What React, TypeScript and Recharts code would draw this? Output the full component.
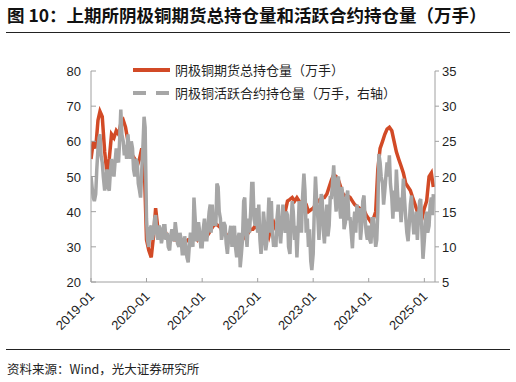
import React from 'react';
import { LineChart, Line, XAxis, YAxis, Legend } from 'recharts';

// 上期所阴极铜期货总持仓量（万手，左轴），每月 1 日、16 日
const totalOI = [
  // 2019
  55, 60, 58, 66, 68.5, 67, 57, 51, 55, 62, 61, 63, 62, 65, 66, 64, 60, 58, 56, 55, 53, 55, 58, 55,
  // 2020
  32, 29, 27, 33, 41, 35, 33, 34, 34.5, 33, 32, 33, 32, 32, 31, 31, 32, 31.5, 32, 32, 33, 33, 32, 33,
  // 2021
  33, 34, 33, 34, 35, 36, 36.5, 36, 35.5, 34, 34, 33, 33.5, 33, 32, 32.5, 31, 31.5, 32.5, 33, 34, 35, 35, 36,
  // 2022
  35, 34, 33, 34, 35, 33, 36, 37, 35, 34, 35, 37, 40, 43, 43.5, 44, 43, 44, 43, 42, 43, 42, 40, 40.5,
  // 2023
  41, 42, 43, 43.5, 44, 44, 45, 47, 49, 50.5, 50, 49, 47, 45, 44.5, 44.5, 44, 43, 42, 41.5, 41, 40.5, 40.5, 39,
  // 2024
  38, 37, 38, 40, 52, 58, 60, 62, 63.5, 64, 63, 60, 57, 55, 53, 51, 48, 47, 46, 44, 42, 40, 38, 38,
  // 2025
  41, 43, 50, 51, 47,
];

// 阴极铜活跃合约持仓量（万手，右轴），每月 1、8、16、23 日
const activeOI = [
  // 2019
  20, 18.5, 17, 16.5, 17.5, 21, 24, 25.5, 26, 23, 22, 20, 18, 19.5, 21, 18.5,
  18, 20.5, 22.5, 21, 20, 22, 24, 22.5, 22, 25, 29.5, 26, 25, 23, 24.5, 22.5,
  26, 24, 22.5, 25, 24, 21, 20, 22.5, 22, 19, 18, 17, 21, 24, 28.5, 27,
  // 2020
  14, 11, 10, 12.5, 13, 11, 12, 14, 14.5, 12, 11, 13, 12.5, 10.5, 11.5, 13,
  13, 11, 12, 10, 9.5, 11.5, 12.5, 11, 11, 13.5, 12, 10.5, 10, 12, 11, 9,
  9, 11.5, 10, 8.5, 7.8, 10, 12, 11, 10, 17, 14, 11, 11, 13.5, 12, 10,
  // 2021
  10, 12.5, 14, 11, 11, 13, 15, 16, 12, 16, 13, 14, 13, 19, 18.5, 15,
  14, 11, 12, 13.5, 13, 10.5, 9, 11, 12, 13, 10, 11.5, 13, 10, 8.5, 11,
  12, 7.1, 9, 11, 16.5, 17, 12, 10, 14, 12, 15, 19, 19, 14, 13, 15.5,
  // 2022
  12, 16, 11, 9, 11, 15, 13, 9.5, 10.5, 13, 17, 12, 16.5, 12, 10, 11,
  10, 14, 16, 12.5, 10.5, 13, 16, 14, 12, 15, 14.5, 10, 9, 13, 16.5, 15,
  11, 13, 8.5, 12, 16.5, 15, 12, 17, 20.4, 18, 12, 14, 10, 12.5, 8, 6.7,
  // 2023
  9, 15, 20, 17, 14, 11, 15, 17.5, 17, 12.5, 10.5, 14, 16, 11.5, 13, 17,
  17, 19, 21.6, 18, 15, 19.5, 20, 16, 14, 18.5, 17, 12.5, 13.5, 17, 18, 14,
  14, 12, 9.8, 13, 15, 12, 16, 13.5, 15.5, 11, 13, 16.5, 17.3, 14, 12, 11,
  // 2024
  13, 11, 10.5, 14, 14, 12, 10, 11, 15, 23.2, 22, 20, 19, 16, 18, 20,
  22, 20, 23, 19, 17, 14, 18, 15, 21, 18, 15, 17, 13.5, 16, 19.7, 17,
  14, 12, 10.8, 13, 16, 17.3, 14, 12, 12, 15, 11, 14, 16.5, 16.8, 12, 8.3,
  // 2025
  11, 13.5, 15, 12, 13, 16, 17, 14.5, 17.5,
];

const tickYears = [2019, 2020, 2021, 2022, 2023, 2024, 2025];
const xTickLabels = ['2019-01', '2020-01', '2021-01', '2022-01', '2023-01', '2024-01', '2025-01'];
const leftTicks = [20, 30, 40, 50, 60, 70, 80];
const rightTicks = [5, 10, 15, 20, 25, 30, 35];

const seriesNames = ['阴极铜期货总持仓量（万手）', '阴极铜活跃合约持仓量（万手，右轴）'];

const halfMonthDays = [1, 16];
const weekDays = [1, 8, 16, 23];

const totalData = totalOI.map((v, i) => ({
  t: Date.UTC(2019 + Math.floor(i / 24), Math.floor((i % 24) / 2), halfMonthDays[i % 2]),
  total: v,
}));

const activeData = activeOI.map((v, i) => ({
  t: Date.UTC(2019 + Math.floor(i / 48), Math.floor((i % 48) / 4), weekDays[i % 4]),
  active: v,
}));

const xTicks = tickYears.map((y) => Date.UTC(y, 0, 1));

const RED = '#D24A26';
const GREY = '#A6A6A6';
const AXIS = '#A0A0A0';
const TEXT = '#1f1f1f';
const NUM_FONT = '"Liberation Sans", Arial, sans-serif';
const CJK_FONT = '"Noto Sans CJK SC", "Noto Sans", sans-serif';

const XTick = (props: any) => {
  const { x, y, index } = props;
  const ax = x + 4;
  const ay = y + 15;
  return (
    <g>
      <line x1={x} y1={y} x2={x} y2={y - 4} stroke={AXIS} />
      <text x={ax} y={ay} transform={`rotate(-45 ${ax} ${ay})`} textAnchor="end"
        fontSize={13} fontFamily={NUM_FONT} fill={TEXT}>
        {xTickLabels[index]}
      </text>
    </g>
  );
};

const LeftTick = (props: any) => {
  const { x, y, payload } = props;
  return (
    <g>
      <line x1={x} y1={y} x2={x + 5} y2={y} stroke={AXIS} />
      <text x={x - 10} y={y + 5} textAnchor="end" fontSize={13} fontFamily={NUM_FONT} fill={TEXT}>
        {payload.value}
      </text>
    </g>
  );
};

const RightTick = (props: any) => {
  const { x, y, payload } = props;
  return (
    <g>
      <line x1={x} y1={y} x2={x + 4} y2={y} stroke={AXIS} />
      <text x={x + 7} y={y + 5} textAnchor="start" fontSize={13} fontFamily={NUM_FONT} fill={TEXT}>
        {payload.value}
      </text>
    </g>
  );
};

const LegendBox = () => (
  <svg width={300} height={48} style={{ overflow: 'visible' }}>
    <line x1={3} y1={10} x2={40} y2={10} stroke={RED} strokeWidth={4} />
    <text x={45} y={15} fontSize={13} fontFamily={CJK_FONT} fill={TEXT}>{seriesNames[0]}</text>
    <line x1={3} y1={33} x2={40} y2={33} stroke={GREY} strokeWidth={4} strokeDasharray="13 10" />
    <text x={45} y={38} fontSize={13} fontFamily={CJK_FONT} fill={TEXT}>{seriesNames[1]}</text>
  </svg>
);

export default function App() {
  return (
    <div style={{ position: 'absolute', left: 0, top: 0, width: 516, height: 382, background: '#fff', fontFamily: CJK_FONT }}>
      <div style={{ position: 'absolute', left: 7, top: 4, fontSize: 17.5, lineHeight: '22px', fontWeight: 700, color: '#111', whiteSpace: 'nowrap' }}>
        图 10：上期所阴极铜期货总持仓量和活跃合约持仓量（万手）
      </div>
      <div style={{ position: 'absolute', left: 6, top: 32, width: 504, height: 1.3, background: '#222' }} />

      <div style={{ position: 'absolute', left: 0, top: 0 }}>
        <LineChart width={516} height={345} margin={{ top: 71, right: 0, bottom: 8, left: 0 }}>
          <XAxis dataKey="t" type="number" domain={[Date.UTC(2019, 0, 1), Date.UTC(2025, 2, 12)]}
            ticks={xTicks} interval={0} height={55} tickSize={0} tickMargin={0}
            tick={<XTick />} tickLine={false} axisLine={{ stroke: AXIS }} allowDataOverflow />
          <YAxis yAxisId="left" orientation="left" width={91} domain={[20, 80]} ticks={leftTicks}
            interval={0} tickSize={0} tickMargin={0} tickLine={false} tick={<LeftTick />} axisLine={{ stroke: AXIS }} />
          <YAxis yAxisId="right" orientation="right" width={81} domain={[5, 35]} ticks={rightTicks}
            interval={0} tickSize={0} tickMargin={0} tickLine={false} tick={<RightTick />} axisLine={{ stroke: AXIS }} />
          <Legend layout="horizontal" verticalAlign="middle" align="center" content={<LegendBox />}
            wrapperStyle={{ left: 130, top: 60, width: 300, height: 48 }} />
          <Line data={totalData} yAxisId="left" type="linear" dataKey="total" stroke={RED} strokeWidth={3.5}
            dot={false} isAnimationActive={false} name={seriesNames[0]} />
          <Line data={activeData} yAxisId="right" type="linear" dataKey="active" stroke={GREY} strokeWidth={3.5}
            dot={false} isAnimationActive={false} name={seriesNames[1]} />
        </LineChart>
      </div>

      <div style={{ position: 'absolute', left: 6, top: 349, width: 504, height: 1.3, background: '#222' }} />
      <div style={{ position: 'absolute', left: 7, top: 360, fontSize: 12.5, lineHeight: '18px', color: '#222', whiteSpace: 'nowrap' }}>
        资料来源：Wind，光大证券研究所
      </div>
    </div>
  );
}
